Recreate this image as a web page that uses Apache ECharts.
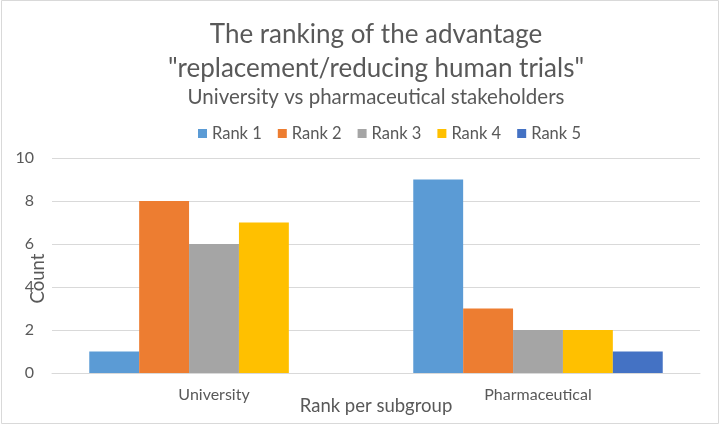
<!DOCTYPE html>
<html>
<head>
<meta charset="utf-8">
<script src="https://cdn.jsdelivr.net/npm/echarts@6/dist/echarts.min.js"></script>
<style>
  html, body { margin: 0; padding: 0; background: #fff; }
  #chart { width: 723px; height: 426px; }
</style>
</head>
<body>
<div id="chart"></div>
<script>
// data
const categories = ['University', 'Pharmaceutical'];
const rankNames = ['Rank 1', 'Rank 2', 'Rank 3', 'Rank 4', 'Rank 5'];
const rank1 = [1, 9];
const rank2 = [8, 3];
const rank3 = [6, 2];
const rank4 = [7, 2];
const rank5 = [null, 1];
const colors = ['#5B9BD5', '#ED7D31', '#A5A5A5', '#FFC000', '#4472C4'];

const font = 'Lato, "Open Sans", sans-serif';
const textColor = '#595959';

const seriesValues = [rank1, rank2, rank3, rank4, rank5];

const chart = echarts.init(document.getElementById('chart'));

chart.setOption({
    animation: false,
    color: colors,
    textStyle: { fontFamily: font },
    title: {
        text: 'The ranking of the advantage\n"replacement/reducing human trials"',
        subtext: 'University vs pharmaceutical stakeholders',
        left: 376,
        textAlign: 'center',
        top: 18,
        padding: 0,
        itemGap: 0,
        textStyle: {
            fontFamily: font,
            fontSize: 26,
            fontWeight: 'normal',
            color: textColor,
            lineHeight: 34
        },
        subtextStyle: {
            fontFamily: font,
            fontSize: 20.5,
            color: textColor,
            lineHeight: 22
        }
    },
    legend: {
        data: rankNames,
        top: 120,
        left: 193,
        icon: 'rect',
        itemWidth: 9,
        itemHeight: 9,
        itemGap: 16,
        textStyle: { fontFamily: font, fontSize: 16.5, color: textColor }
    },
    grid: {
        left: 52,
        right: 23,
        top: 158,
        bottom: 53,
        outerBoundsMode: 'none'
    },
    xAxis: {
        type: 'category',
        data: categories,
        name: 'Rank per subgroup',
        nameLocation: 'middle',
        nameGap: 24,
        nameMoveOverlap: false,
        nameTextStyle: { fontFamily: font, fontSize: 18.5, color: textColor },
        axisLine: { lineStyle: { color: '#d9d9d9', width: 1 } },
        axisTick: { show: false },
        axisLabel: { fontFamily: font, fontSize: 16, color: textColor, margin: 14 }
    },
    yAxis: {
        type: 'value',
        min: 0,
        max: 10,
        interval: 2,
        name: 'Count',
        nameLocation: 'middle',
        nameGap: 4,
        nameMoveOverlap: false,
        nameTextStyle: { fontFamily: font, fontSize: 18.5, color: textColor, padding: [0, 26, 0, 0] },
        axisLine: { show: false },
        axisTick: { show: false },
        axisLabel: { fontFamily: font, fontSize: 16, color: textColor, margin: 18 },
        splitLine: { lineStyle: { color: '#d9d9d9', width: 1 } }
    },
    series: rankNames.map((name, i) => ({
        name: name,
        type: 'bar',
        data: seriesValues[i],
        barGap: '0%',
        barCategoryGap: '23%'
    })),
    graphic: [{
        type: 'rect',
        shape: { x: 1.5, y: 0.5, width: 717, height: 423 },
        style: { fill: 'none', stroke: '#d9d9d9', lineWidth: 1 },
        silent: true
    }]
});
</script>
</body>
</html>
